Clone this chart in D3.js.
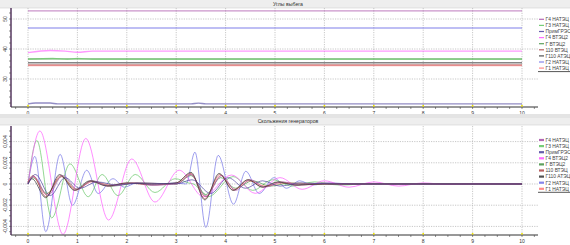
<!DOCTYPE html>
<html>
<head>
<meta charset="utf-8">
<script src="https://d3js.org/d3.v7.min.js"></script>
<style>
  body { margin: 0; background: #fff; }
  svg { display: block; font-family: "Liberation Sans", Arial, sans-serif; }
</style>
</head>
<body>
<div id="chart"></div>
<script>
// series names, legend order
const names = ["Г4 НАТЭЦ", "Г3 НАТЭЦ", "ПримГРЭС", "Г4 ВТЭЦ2", "Г ВТЭЦ2", "110 ВТЭЦ", "Г110 АТЭЦ", "Г2 НАТЭЦ", "Г1 НАТЭЦ"];
const colors = ["#a64ca6", "#5fc45f", "#4a3f9c", "#ff55ff", "#3f8f3f", "#aa4444", "#333333", "#6e6ee6", "#ff7777"];

const xTicks = [0, 1, 2, 3, 4, 5, 6, 7, 8, 9, 10];
const topTicks = [30, 40, 50];
const bottomTicks = [-0.004, -0.002, 0, 0.002, 0.004];

// "Углы выбега" – [time, degrees]
const angG4NA = [[0, 52.7], [10, 52.7]];
const angG3NA = [[0, 36.6], [0.5, 36.85], [0.8, 36.6], [1.0, 36.85], [1.3, 36.6], [10, 36.6]];
const angPrim = [[0, 21.7], [0.15, 22.0], [0.45, 22.0], [0.6, 21.7], [3.3, 21.7], [3.45, 21.95], [3.6, 21.7], [10, 21.7]];
const angG4VT = [[0, 38.8], [0.45, 39.5], [0.75, 39.3], [1.0, 38.9], [1.3, 39.3], [10, 39.3]];
const angGVT = [[0, 36.7], [10, 36.7]];
const ang110VT = [[0, 34.7], [10, 34.7]];
const angG110AT = [[0, 35.4], [10, 35.4]];
const angG2NA = [[0, 47.0], [10, 47.0]];
const angG1NA = [[0, 34.5], [10, 34.5]];

// "Скольжения генераторов" – [time, slip]
const slG4NA = [[0, 0], [0.12, 0.0007], [0.4, -0.0011], [0.7, 0.0008], [1.0, -0.0005], [1.3, 0.0003], [1.65, -0.0002], [2.1, 0.0001], [2.6, -0.0001], [3.05, 0.0001], [3.3, 0.0009], [3.6, -0.0012], [3.92, 0.0008], [4.2, -0.0006], [4.5, 0.0004], [4.8, -0.0003], [5.15, 0.0002], [5.5, -0.0001], [6, 0.0001], [6.6, 0], [10, 0]];
const slG3NA = [[0, 0], [0.18, 0.0041], [0.48, -0.0032], [0.85, 0.0019], [1.22, -0.0012], [1.5, 0.0009], [1.82, -0.0011], [2.17, 0.0009], [2.57, -0.0008], [2.98, 0.0005], [3.25, 0.0001], [3.35, 0], [3.65, -0.0012], [4.15, 0.0007], [4.55, -0.0006], [4.95, 0.0004], [5.35, -0.0002], [5.8, 0.0002], [6.3, -0.0001], [7, 0.00005], [10, 0]];
const slPrim = [[0, 0], [0.15, 0.0009], [0.45, -0.0011], [0.75, 0.0006], [1.05, -0.0004], [1.4, 0.0002], [1.8, -0.0001], [2.3, 0.0001], [3.0, 0], [3.32, 0.0004], [3.7, -0.0009], [4.05, 0.0006], [4.4, -0.0004], [4.75, 0.0003], [5.1, -0.0002], [5.5, 0.0001], [6.2, 0], [10, 0]];
const slG4VT = [[0, 0], [0.24, 0.0050], [0.71, -0.00475], [1.17, 0.0043], [1.63, -0.0034], [2.1, 0.00236], [2.57, -0.0017], [3.06, 0.0013], [3.55, -0.0012], [4.12, 0.00085], [4.6, -0.00088], [5.1, 0.0006], [5.55, -0.0005], [6.0, 0.0003], [6.5, -0.0003], [7.0, 0.0002], [7.5, -0.0002], [8.0, 0.0001], [8.5, -0.00005], [9, 0.00003], [10, 0]];
const slGVT = [[0, 0.0001], [0.1, 0.0006], [0.38, -0.0009], [0.68, 0.0007], [0.98, -0.0005], [1.3, 0.0003], [1.7, -0.0002], [2.2, 0.0001], [3.0, 0], [3.3, 0.0008], [3.6, -0.001], [3.9, 0.0006], [4.2, -0.0004], [4.55, 0.0003], [4.9, -0.0002], [5.3, 0.0001], [6, 0], [10, 0]];
const sl110VT = [[0, 0.0002], [0.1, 0.0008], [0.36, -0.0012], [0.66, 0.0008], [0.96, -0.0006], [1.28, 0.0003], [1.62, -0.0002], [2.0, 0.0001], [2.5, -0.0001], [3.0, 0.0001], [3.3, 0.001], [3.58, -0.0014], [3.88, 0.0009], [4.16, -0.0006], [4.46, 0.0004], [4.76, -0.0003], [5.1, 0.0002], [5.45, -0.0001], [6, 0], [10, 0]];
const slG110AT = [[0, 0], [0.08, 0.0005], [0.36, -0.0013], [0.64, 0.0009], [0.94, -0.0006], [1.25, 0.0003], [1.6, -0.0002], [2.0, 0.0001], [2.5, 0], [3.0, 0.0001], [3.3, 0.0011], [3.58, -0.0015], [3.87, 0.001], [4.15, -0.0006], [4.45, 0.0004], [4.75, -0.0003], [5.05, 0.0002], [5.4, -0.0001], [6, 0], [10, 0]];
const slG2NA = [[0, 0], [0.14, 0.0026], [0.36, -0.0045], [0.65, 0.0028], [0.9, -0.002], [1.19, 0.0013], [1.42, -0.0009], [1.72, 0.0005], [1.95, -0.0003], [2.2, 0.0001], [2.5, -0.0001], [3.0, 0.0001], [3.2, 0], [3.38, 0.003], [3.6, -0.0041], [3.85, 0.0027], [4.16, -0.0019], [4.41, 0.0012], [4.68, -0.0009], [4.98, 0.0006], [5.23, -0.0004], [5.5, 0.0003], [5.75, -0.0001], [6.1, 0.0001], [6.6, 0], [10, 0]];
const slG1NA = [[0, 0.0001], [0.1, 0.0007], [0.37, -0.001], [0.67, 0.0007], [0.97, -0.0005], [1.3, 0.0002], [1.7, -0.0001], [2.2, 0.0001], [3.0, 0], [3.3, 0.0009], [3.59, -0.0012], [3.9, 0.0008], [4.18, -0.0005], [4.48, 0.0003], [4.8, -0.0002], [5.2, 0.0001], [6, 0], [10, 0]];

const angles = [angG4NA, angG3NA, angPrim, angG4VT, angGVT, ang110VT, angG110AT, angG2NA, angG1NA];
const slips = [slG4NA, slG3NA, slPrim, slG4VT, slGVT, sl110VT, slG110AT, slG2NA, slG1NA];

const W = 570, H = 245;
const svg = d3.select("#chart").append("svg").attr("width", W).attr("height", H);

const x = d3.scaleLinear().domain([0, 10]).range([28, 522]);
const axisLeftX = 11, axisRightX = 538;

function fmt(v) {
  return String(+v.toFixed(3)).replace(".", ",");
}

function drawPanel(cfg) {
  const g = svg.append("g");
  const y = d3.scaleLinear().domain(cfg.domain).range([cfg.bottom, cfg.top]);

  // title bar
  g.append("rect").attr("x", 0).attr("y", cfg.barY).attr("width", W).attr("height", cfg.barH).attr("fill", "#eeeeee");
  g.append("line").attr("x1", 0).attr("x2", W).attr("y1", cfg.barY + cfg.barH).attr("y2", cfg.barY + cfg.barH).attr("stroke", "#d0d0d0").attr("stroke-width", 0.6);
  g.append("text").attr("x", 288).attr("y", cfg.barY + cfg.barH / 2 + 1.8).attr("text-anchor", "middle")
    .attr("font-size", 5.2).attr("fill", "#333").text(cfg.title);

  // grid
  g.selectAll(".vg").data(xTicks).join("line")
    .attr("x1", d => x(d)).attr("x2", d => x(d)).attr("y1", cfg.top).attr("y2", cfg.bottom)
    .attr("stroke", "#b0b0b0").attr("stroke-width", 0.7).attr("stroke-dasharray", "1.2,1.2");
  g.selectAll(".hg").data(cfg.ticks).join("line")
    .attr("x1", axisLeftX).attr("x2", axisRightX).attr("y1", d => y(d)).attr("y2", d => y(d))
    .attr("stroke", "#b0b0b0").attr("stroke-width", 0.7).attr("stroke-dasharray", "1.2,1.2");

  // series
  const line = d3.line().x(d => x(d[0])).y(d => y(d[1])).curve(d3.curveMonotoneX);
  g.selectAll(".s").data(cfg.order).join("path")
    .attr("d", i => line(cfg.series[i]))
    .attr("fill", "none")
    .attr("stroke", i => colors[i])
    .attr("stroke-width", cfg.lw)
    .attr("stroke-opacity", cfg.op);

  // axes
  g.append("line").attr("x1", axisLeftX).attr("x2", axisRightX).attr("y1", cfg.bottom).attr("y2", cfg.bottom)
    .attr("stroke", "#333").attr("stroke-width", 1);
  g.append("line").attr("x1", axisLeftX).attr("x2", axisLeftX).attr("y1", cfg.top).attr("y2", cfg.bottom)
    .attr("stroke", "#4a2a55").attr("stroke-width", 1.4);

  // minor ticks on x
  g.selectAll(".xm").data(d3.range(-0.25, 10.3, 0.25)).join("line")
    .attr("x1", d => x(d)).attr("x2", d => x(d)).attr("y1", cfg.bottom).attr("y2", cfg.bottom + 2)
    .attr("stroke", "#444").attr("stroke-width", 0.6);
  // yellow marks at major ticks
  g.selectAll(".ym").data(xTicks).join("rect")
    .attr("x", d => x(d) - 0.8).attr("y", cfg.bottom - 2).attr("width", 1.6).attr("height", 1.6)
    .attr("fill", "#f2e600");
  g.selectAll(".xl").data(xTicks).join("text")
    .attr("x", d => x(d)).attr("y", cfg.bottom + 7.5).attr("text-anchor", "middle")
    .attr("font-size", 5).attr("fill", "#333").text(d => d);

  // minor ticks on y
  g.selectAll(".ytm").data(cfg.minor).join("line")
    .attr("x1", axisLeftX - 2).attr("x2", axisLeftX).attr("y1", d => y(d)).attr("y2", d => y(d))
    .attr("stroke", "#444").attr("stroke-width", 0.6);
  g.selectAll(".yl").data(cfg.ticks).join("text")
    .attr("transform", d => `translate(7,${y(d)}) rotate(-90)`)
    .attr("text-anchor", "middle")
    .attr("font-size", 5).attr("fill", "#333").text(d => fmt(d));

  // legend
  const leg = g.append("g");
  names.forEach((n, i) => {
    const ly = cfg.legY + i * 6.1;
    leg.append("line").attr("x1", 539).attr("x2", 544).attr("y1", ly).attr("y2", ly)
      .attr("stroke", colors[i]).attr("stroke-width", cfg.legW).attr("stroke-opacity", 0.85);
    leg.append("text").attr("x", 545.5).attr("y", ly + 1.8).attr("font-size", 4.9).attr("fill", "#444").text(n);
  });
  const uy = cfg.legY + 8 * 6.1 + 3.5;
  leg.append("line").attr("x1", 538).attr("x2", 570).attr("y1", uy).attr("y2", uy).attr("stroke", "#555").attr("stroke-width", 1);
}

drawPanel({
  title: "Углы выбега", barY: 0, barH: 8,
  top: 8, bottom: 107, domain: [20.67, 53.67],
  ticks: topTicks, minor: d3.range(22, 54, 2),
  series: angles, order: [8, 5, 6, 4, 1, 3, 7, 2, 0],
  lw: 1.4, op: 0.6, legY: 19.3, legW: 1.2
});

svg.append("rect").attr("x", 0).attr("y", 114).attr("width", W).attr("height", 4).attr("fill", "#e4e4e4");

drawPanel({
  title: "Скольжения генераторов", barY: 118, barH: 7,
  top: 126, bottom: 235, domain: [-0.00481, 0.00547],
  ticks: bottomTicks, minor: d3.range(-0.0045, 0.0055, 0.0005),
  series: slips, order: [7, 1, 3, 4, 8, 5, 0, 6, 2],
  lw: 0.9, op: 0.75, legY: 140, legW: 2.2
});
</script>
</body>
</html>
